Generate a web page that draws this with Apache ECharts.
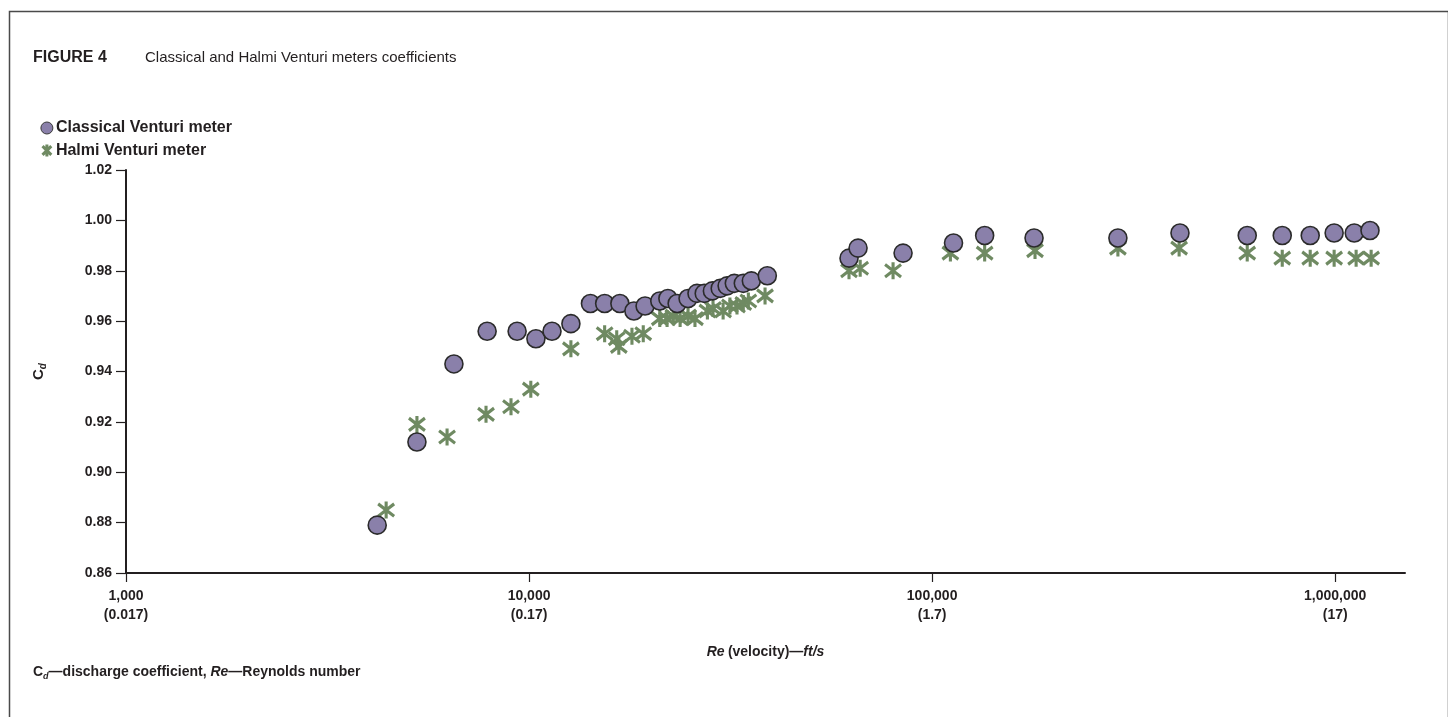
<!DOCTYPE html>
<html><head><meta charset="utf-8">
<script src="https://cdn.jsdelivr.net/npm/echarts@6/dist/echarts.min.js"></script>
<style>html,body{margin:0;padding:0;background:#fff;}#c{width:1448px;height:717px;}</style>
</head><body><div id="c"></div>
<script>
// ---- data ----
const classicalRe = [4200, 5270, 6510, 7870, 9340, 10400, 11400, 12700, 14200, 15400, 16800, 18200, 19400, 21100, 22100, 23300, 24800, 26100, 27200, 28500, 29800, 31000, 32300, 34000, 35600, 39000, 62200, 65500, 84700, 113000, 135000, 179000, 289000, 412000, 605000, 739000, 867000, 994000, 1115000, 1220000];
const classicalCd = [0.879, 0.912, 0.943, 0.956, 0.956, 0.953, 0.956, 0.959, 0.967, 0.967, 0.967, 0.964, 0.966, 0.968, 0.969, 0.967, 0.969, 0.971, 0.971, 0.972, 0.973, 0.974, 0.975, 0.975, 0.976, 0.978, 0.985, 0.989, 0.987, 0.991, 0.994, 0.993, 0.993, 0.995, 0.994, 0.994, 0.994, 0.995, 0.995, 0.996];
const halmiRe = [4420, 5270, 6260, 7820, 9020, 10100, 12700, 15400, 16500, 16700, 18000, 19200, 21100, 22000, 22800, 23700, 24800, 25800, 27700, 28600, 30300, 31500, 32800, 34000, 35000, 38500, 62200, 66300, 80000, 111000, 135000, 180000, 289000, 410000, 605000, 739000, 867000, 994000, 1127000, 1228000];
const halmiCd = [0.885, 0.919, 0.914, 0.923, 0.926, 0.933, 0.949, 0.955, 0.953, 0.950, 0.954, 0.955, 0.961, 0.961, 0.962, 0.961, 0.962, 0.961, 0.964, 0.965, 0.964, 0.966, 0.966, 0.967, 0.968, 0.970, 0.980, 0.981, 0.980, 0.987, 0.987, 0.988, 0.989, 0.989, 0.987, 0.985, 0.985, 0.985, 0.985, 0.985];
const xTickValues = [1000, 10000, 100000, 1000000];
const xTickLabels = ['1,000', '10,000', '100,000', '1,000,000'];
const xTickVelocity = ['(0.017)', '(0.17)', '(1.7)', '(17)'];
const seriesNames = ['Classical Venturi meter', 'Halmi Venturi meter'];

const FONT = "'Liberation Sans', Arial, Helvetica, sans-serif";
const TXT = '#231f20';
const PURPLE = '#8a80aa';
const GREEN = '#6f8a62';
const STAR = 'path://M5,0L5,12M0.6,1.6L9.4,10.4M9.4,1.6L0.6,10.4';

function pairs(xs, ys) { return xs.map((x, i) => [x, ys[i]]); }
function tickIndex(v) {
  for (let i = 0; i < xTickValues.length; i++) {
    if (Math.abs(v - xTickValues[i]) / xTickValues[i] < 1e-6) return i;
  }
  return -1;
}

const chart = echarts.init(document.getElementById('c'), null, {renderer: 'canvas'});
chart.setOption({
  backgroundColor: '#fff',
  animation: false,
  textStyle: {fontFamily: FONT},
  grid: {left: 126, right: 43, top: 170, bottom: 144, containLabel: false},
  legend: {
    orient: 'vertical', left: 35, top: 115, itemGap: 6,
    itemWidth: 12, itemHeight: 12,
    textStyle: {fontFamily: FONT, fontWeight: 'bold', fontSize: 16, color: TXT, padding: [0, 0, 0, -2]},
    data: [
      {name: seriesNames[0], icon: 'circle', itemStyle: {color: PURPLE, borderColor: '#3a3a3a', borderWidth: 1}},
      {name: seriesNames[1], icon: STAR, itemStyle: {color: 'none', borderColor: GREEN, borderWidth: 3}}
    ]
  },
  xAxis: {
    type: 'log', logBase: 10, min: 1000, max: 1490000,
    axisLine: {lineStyle: {color: TXT, width: 2}},
    splitLine: {show: false},
    axisTick: {show: true, inside: false, length: 9, lineStyle: {color: TXT, width: 1.2}, customValues: xTickValues},
    axisLabel: {
      customValues: xTickValues,
      margin: 14, lineHeight: 19,
      fontFamily: FONT, fontWeight: 'bold', fontSize: 14, color: TXT,
      formatter: function (v) { const i = tickIndex(v); return i < 0 ? '' : xTickLabels[i] + '\n' + xTickVelocity[i]; }
    },
    name: '{i|Re} {b|(velocity)—}{i|ft/s}',
    nameLocation: 'middle', nameGap: 72,
    nameTextStyle: {
      rich: {
        i: {fontFamily: FONT, fontWeight: 'bold', fontStyle: 'italic', fontSize: 14, color: TXT},
        b: {fontFamily: FONT, fontWeight: 'bold', fontSize: 14, color: TXT}
      }
    }
  },
  yAxis: {
    type: 'value', min: 0.86, max: 1.02, interval: 0.02,
    axisLine: {show: true, lineStyle: {color: TXT, width: 2}},
    splitLine: {show: false},
    axisTick: {show: true, inside: false, length: 10, lineStyle: {color: TXT, width: 1.2}},
    axisLabel: {margin: 14, fontFamily: FONT, fontWeight: 'bold', fontSize: 14, color: TXT,
      formatter: v => v.toFixed(2)},
    name: '{c|C}{d|d}',
    nameLocation: 'middle', nameGap: 78,
    nameTextStyle: {
      rich: {
        c: {fontFamily: FONT, fontWeight: 'bold', fontSize: 15, color: TXT, lineHeight: 18},
        d: {fontFamily: FONT, fontWeight: 'bold', fontStyle: 'italic', fontSize: 10, color: TXT, lineHeight: 18, verticalAlign: 'bottom', padding: [6, 0, 0, 0]}
      }
    }
  },
  series: [
    {
      name: seriesNames[1], type: 'scatter', symbol: STAR, symbolSize: [16, 17], z: 2,
      itemStyle: {color: 'none', borderColor: GREEN, borderWidth: 3.2, opacity: 1},
      data: pairs(halmiRe, halmiCd)
    },
    {
      name: seriesNames[0], type: 'scatter', symbol: 'circle', symbolSize: 18, z: 3,
      itemStyle: {color: PURPLE, borderColor: '#2b2b2b', borderWidth: 1.6, opacity: 1},
      data: pairs(classicalRe, classicalCd)
    }
  ],
  graphic: [
    {type: 'rect', left: 7, top: 9, silent: true,
      shape: {x: 0, y: 0, width: 1439, height: 730},
      style: {fill: 'none', stroke: '#4a4a4a', lineWidth: 1.5}},
    {type: 'text', left: 33, top: 50, silent: true,
      style: {text: 'FIGURE 4', fontFamily: FONT, fontWeight: 'bold', fontSize: 16, fill: TXT}},
    {type: 'text', left: 145, top: 50, silent: true,
      style: {text: 'Classical and Halmi Venturi meters coefficients', fontFamily: FONT, fontSize: 15, fill: TXT}},
    {type: 'text', left: 33, top: 665, silent: true,
      style: {
        text: '{c|C}{d|d}{b|—discharge coefficient, }{i|Re}{b|—Reynolds number}',
        rich: {
          c: {fontFamily: FONT, fontWeight: 'bold', fontSize: 14, fill: TXT, lineHeight: 18},
          d: {fontFamily: FONT, fontWeight: 'bold', fontStyle: 'italic', fontSize: 9, fill: TXT, lineHeight: 18, verticalAlign: 'bottom', padding: [6, 0, 0, 0]},
          b: {fontFamily: FONT, fontWeight: 'bold', fontSize: 14, fill: TXT, lineHeight: 18},
          i: {fontFamily: FONT, fontWeight: 'bold', fontStyle: 'italic', fontSize: 14, fill: TXT, lineHeight: 18}
        }
      }}
  ]
});
</script></body></html>
